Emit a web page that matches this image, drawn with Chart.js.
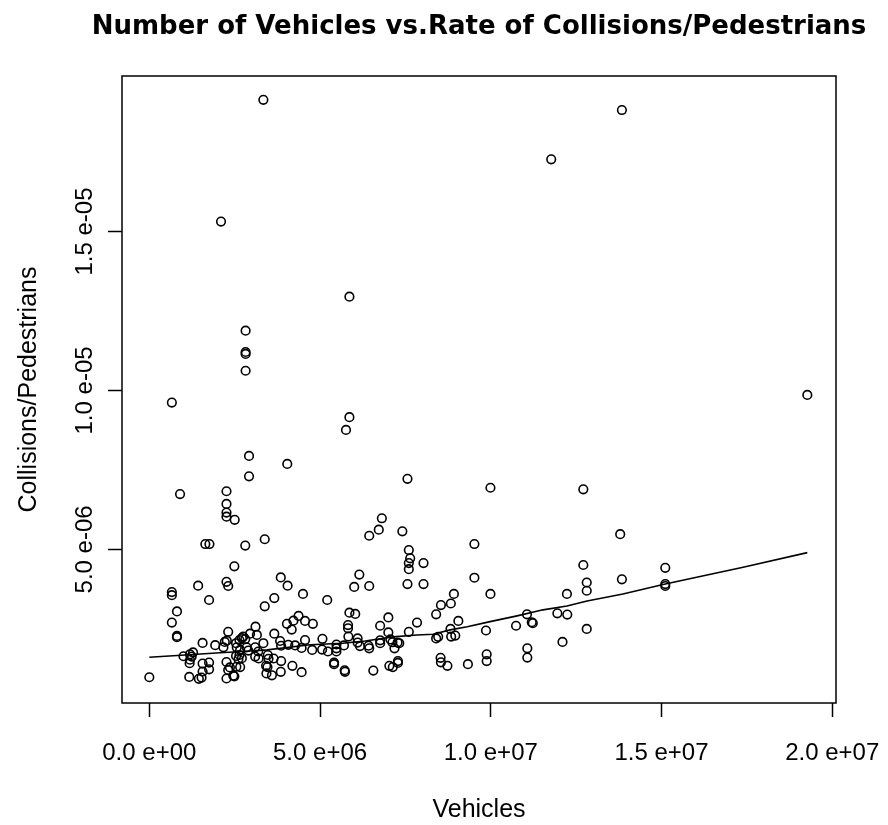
<!DOCTYPE html>
<html>
<head>
<meta charset="utf-8">
<title>Number of Vehicles vs.Rate of Collisions/Pedestrians</title>
<script src="https://cdn.jsdelivr.net/npm/chart.js@4.4.1/dist/chart.umd.min.js"></script>
<style>
  html, body { margin: 0; padding: 0; background: #fff; }
  #chartContainer { width: 888px; height: 825px; }
</style>
</head>
<body>
<div id="chartContainer"><canvas id="collisionsChart"></canvas></div>
<script>
const chartTitle = "Number of Vehicles vs.Rate of Collisions/Pedestrians";
const xAxisTitle = "Vehicles";
const yAxisTitle = "Collisions/Pedestrians";
const xTicks = [0, 5e6, 1e7, 1.5e7, 2e7];
const yTicks = [5e-6, 1e-5, 1.5e-5];

// vehicles in millions, rate in units of 1e-6
const vehiclesMillions = [
  3.34, 2.10, 13.84, 11.77, 19.27, 5.86, 2.82, 2.82, 2.82, 2.82,
  0.66, 5.86, 5.76, 2.92, 4.04, 2.92, 7.56, 9.99, 12.71, 0.90,
  2.26, 2.26, 2.26, 2.26, 2.50, 6.81, 6.72, 6.44, 7.41, 13.79,
  3.38, 1.64, 1.76, 2.81, 9.52, 7.60, 7.64, 7.60, 7.60, 8.03,
  12.71, 15.11, 2.49, 6.15, 3.85, 9.52, 13.84, 2.26, 2.31, 4.05,
  1.43, 6.00, 6.44, 7.56, 8.03, 12.81, 12.81, 15.11, 15.11, 0.66,
  0.66, 4.50, 1.75, 3.66, 5.21, 8.92, 9.99, 12.23, 3.38, 8.54,
  8.83, 0.81, 5.86, 6.03, 4.37, 8.40, 7.00, 11.06, 11.95, 12.24,
  0.66, 4.03, 4.22, 4.56, 4.79, 6.76, 7.84, 9.05, 10.74, 11.20,
  11.23, 4.17, 5.82, 5.82, 3.11, 8.82, 9.86, 12.81, 0.81, 0.81,
  3.66, 2.31, 5.83, 5.07, 2.95, 3.15, 2.75, 7.60, 7.00, 8.84,
  8.96, 8.40, 8.46, 6.10, 12.10, 2.64, 2.71, 1.56, 1.93, 2.17,
  2.21, 2.27, 2.54, 2.81, 3.34, 3.83, 3.86, 4.07, 4.27, 4.56,
  4.46, 4.77, 5.06, 5.23, 5.48, 5.48, 5.48, 5.70, 6.10, 6.17,
  6.42, 6.44, 6.76, 6.76, 7.06, 7.12, 7.27, 7.32, 7.18, 8.53,
  8.54, 8.73, 9.33, 9.88, 9.88, 11.07, 11.07, 1.00, 1.19, 1.24,
  1.19, 1.28, 1.18, 1.56, 1.75, 1.75, 1.56, 2.26, 2.36, 2.55,
  2.31, 2.54, 2.64, 2.61, 2.66, 2.56, 2.71, 2.66, 2.85, 2.90,
  3.10, 3.19, 3.10, 3.20, 3.47, 3.49, 3.64, 3.86, 4.19, 3.42,
  3.46, 3.43, 3.59, 3.85, 4.46, 5.41, 5.41, 5.72, 5.73, 0.00,
  1.17, 1.45, 1.53, 2.26, 2.46, 2.49, 6.56, 7.03, 7.13, 7.28,
  7.28
];
const ratePerMillion = [
  19.14, 15.31, 18.82, 17.27, 9.86, 12.95, 11.88, 11.21, 11.15, 10.62,
  9.62, 9.16, 8.76, 7.94, 7.69, 7.30, 7.22, 6.94, 6.89, 6.74,
  6.83, 6.43, 6.16, 6.03, 5.93, 5.98, 5.62, 5.43, 5.57, 5.48,
  5.32, 5.17, 5.17, 5.12, 5.17, 4.98, 4.72, 4.57, 4.38, 4.57,
  4.51, 4.42, 4.47, 4.21, 4.12, 4.11, 4.06, 3.98, 3.85, 3.86,
  3.86, 3.82, 3.85, 3.91, 3.91, 3.96, 3.70, 3.91, 3.85, 3.66,
  3.56, 3.60, 3.41, 3.47, 3.41, 3.60, 3.60, 3.60, 3.21, 3.25,
  3.30, 3.05, 3.01, 2.97, 2.91, 2.96, 2.86, 2.96, 2.99, 2.95,
  2.70, 2.66, 2.76, 2.75, 2.66, 2.60, 2.70, 2.75, 2.60, 2.71,
  2.68, 2.48, 2.62, 2.52, 2.57, 2.50, 2.45, 2.50, 2.28, 2.24,
  2.35, 2.41, 2.26, 2.19, 2.35, 2.31, 2.26, 2.41, 2.39, 2.26,
  2.29, 2.20, 2.25, 2.20, 2.09, 2.15, 2.21, 2.06, 1.99, 1.92,
  2.09, 2.13, 2.05, 2.18, 2.05, 2.12, 1.97, 2.00, 1.98, 2.15,
  1.90, 1.84, 1.85, 1.79, 2.01, 1.89, 1.79, 1.98, 2.07, 1.96,
  1.97, 1.89, 2.14, 2.05, 2.17, 2.08, 2.07, 2.05, 1.89, 1.59,
  1.45, 1.34, 1.39, 1.70, 1.49, 1.89, 1.60, 1.64, 1.70, 1.63,
  1.53, 1.76, 1.42, 1.41, 1.44, 1.23, 1.16, 1.46, 1.29, 1.31,
  1.21, 1.65, 1.68, 1.55, 1.84, 1.92, 1.58, 1.30, 1.92, 1.82,
  1.92, 1.79, 1.63, 1.57, 1.68, 1.56, 1.57, 1.49, 1.34, 1.34,
  1.30, 1.10, 1.04, 1.15, 1.14, 1.44, 1.39, 1.20, 1.15, 0.98,
  0.99, 0.93, 0.97, 0.94, 1.03, 1.01, 1.19, 1.34, 1.30, 1.49,
  1.43
];

// smoothed (lowess) curve
const lowessVehiclesMillions = [0.00, 1.05, 2.07, 2.74, 3.45, 4.71, 5.67, 6.32, 7.14, 7.84, 8.31,
  8.81, 9.31, 9.98, 10.77, 11.53, 12.23, 12.82, 13.87, 15.11, 17.39, 19.27];
const lowessRatePerMillion = [1.61, 1.68, 1.75, 1.79, 1.84, 2.00, 2.05, 2.12, 2.25, 2.31, 2.33,
  2.47, 2.57, 2.73, 2.91, 3.10, 3.22, 3.38, 3.60, 3.91, 4.44, 4.90];

const fontFamily = '"Liberation Sans", Arial, Helvetica, sans-serif';
const titleFamily = '"DejaVu Sans", "Liberation Sans", sans-serif';

// R style labels: "5.0 e+06"
function rLabel(value) {
  if (value === 0) return "0.0 e+00";
  const exp = Math.floor(Math.log10(Math.abs(value)) + 1e-9);
  const mant = value / Math.pow(10, exp);
  const sign = exp < 0 ? "-" : "+";
  return mant.toFixed(1) + " e" + sign + String(Math.abs(exp)).padStart(2, "0");
}

const scatterPoints = vehiclesMillions.map((v, i) => ({ x: v * 1e6, y: ratePerMillion[i] * 1e-6 }));
const lowessPoints = lowessVehiclesMillions.map((v, i) => ({ x: v * 1e6, y: lowessRatePerMillion[i] * 1e-6 }));

// box around the plot, main title centred over the plot (wider than the plot,
// so the title plugin would squeeze it) and y tick labels written along the axis
const plotBoxPlugin = {
  id: "plotBox",
  afterDraw(chart) {
    const { ctx, chartArea: a } = chart;
    const yScale = chart.scales.y;
    ctx.save();
    ctx.strokeStyle = "#000";
    ctx.lineWidth = 1.5;
    ctx.strokeRect(a.left, a.top, a.right - a.left, a.bottom - a.top);

    ctx.fillStyle = "#000";
    ctx.textAlign = "center";
    ctx.textBaseline = "alphabetic";
    ctx.font = "bold 26px " + titleFamily;
    ctx.fillText(chartTitle, (a.left + a.right) / 2, 33.5);

    ctx.font = "24px " + fontFamily;
    yTicks.forEach((v) => {
      ctx.save();
      ctx.translate(92, yScale.getPixelForValue(v));
      ctx.rotate(-Math.PI / 2);
      ctx.fillText(rLabel(v), 0, 0);
      ctx.restore();
    });
    ctx.restore();
  },
};

const tickGrid = {
  drawOnChartArea: false,
  drawTicks: true,
  tickLength: 14,
  tickWidth: 1.5,
  tickColor: "#000",
};

const ctx = document.getElementById("collisionsChart").getContext("2d");
const myChart = new Chart(ctx, {
  type: "scatter",
  data: {
    datasets: [
      {
        label: "Collisions/Pedestrians",
        data: scatterPoints,
        pointStyle: "circle",
        pointRadius: 4.3,
        pointBorderWidth: 1.6,
        borderColor: "#000",
        backgroundColor: "rgba(0,0,0,0)",
      },
      {
        label: "lowess",
        data: lowessPoints,
        showLine: true,
        pointRadius: 0,
        borderColor: "#000",
        borderWidth: 1.6,
        tension: 0,
      },
    ],
  },
  options: {
    responsive: true,
    maintainAspectRatio: false,
    animation: false,
    layout: { padding: { left: 0, right: 52, top: 76, bottom: 0 } },
    plugins: {
      legend: { display: false },
      tooltip: { enabled: false },
      title: { display: false },
    },
    scales: {
      x: {
        type: "linear",
        min: -8.0e5,
        max: 2.011e7,
        afterBuildTicks: (s) => { s.ticks = xTicks.map((v) => ({ value: v })); },
        afterFit: (s) => { s.height = 122; s.paddingLeft = 0; s.paddingRight = 0; },
        grid: tickGrid,
        border: { display: false },
        ticks: {
          color: "#000",
          autoSkip: false,
          maxRotation: 0,
          padding: 22,
          font: { family: fontFamily, size: 24 },
          callback: (v) => rLabel(v),
        },
        title: {
          display: true,
          text: xAxisTitle,
          color: "#000",
          font: { family: fontFamily, size: 25, lineHeight: 1.2 },
          padding: { top: 0, bottom: 0 },
        },
      },
      y: {
        type: "linear",
        min: 0.17e-6,
        max: 19.89e-6,
        afterBuildTicks: (s) => { s.ticks = yTicks.map((v) => ({ value: v })); },
        afterFit: (s) => { s.width = 122; s.paddingTop = 0; s.paddingBottom = 0; },
        grid: tickGrid,
        border: { display: false },
        ticks: { display: false },
        title: {
          display: true,
          text: yAxisTitle,
          color: "#000",
          font: { family: fontFamily, size: 25, lineHeight: 1.2 },
          padding: { top: 14, bottom: 0 },
        },
      },
    },
  },
  plugins: [plotBoxPlugin],
});
</script>
</body>
</html>
